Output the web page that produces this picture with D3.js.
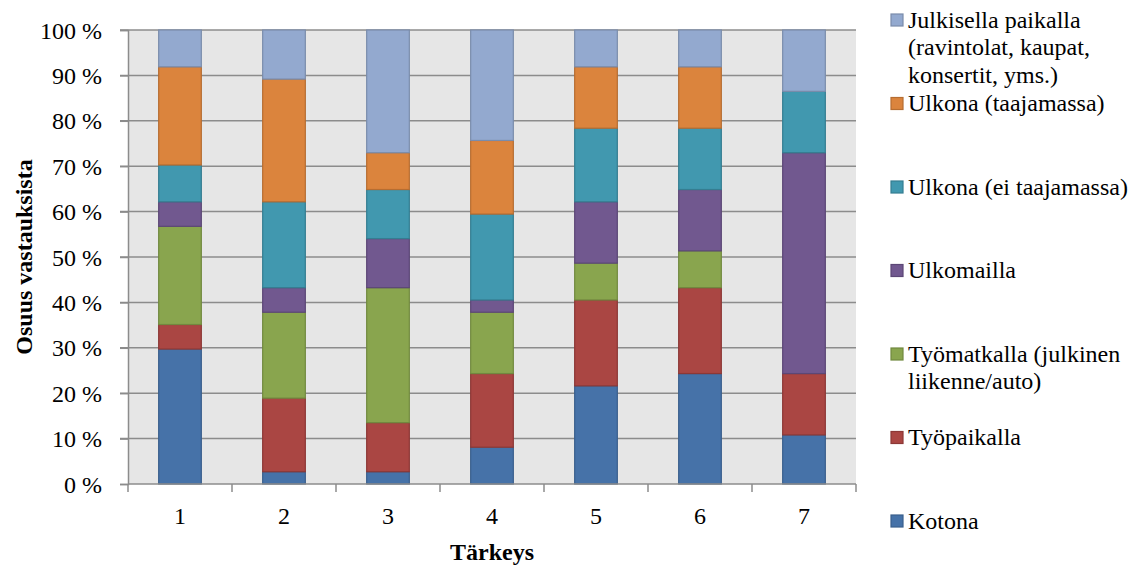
<!DOCTYPE html>
<html>
<head>
<meta charset="utf-8">
<script src="https://cdn.jsdelivr.net/npm/d3@7"></script>
<style>
  html, body { margin: 0; padding: 0; background: #fff; }
  text, tspan { font-family: 'Liberation Serif' !important; }
</style>
</head>
<body>
<svg id="chart" width="1137" height="566" font-family="Liberation Serif"></svg>
<script>
// Importance categories (x axis)
const categories = ["1", "2", "3", "4", "5", "6", "7"];

// Share of answers per place, % (stacked bottom to top)
const kotona      = [29.7, 2.7, 2.7, 8.1, 21.6, 24.3, 10.8];
const tyopaikalla = [5.4, 16.2, 10.8, 16.2, 18.9, 18.9, 13.5];
const tyomatkalla = [21.6, 18.9, 29.7, 13.5, 8.1, 8.1, 0];
const ulkomailla  = [5.4, 5.4, 10.8, 2.7, 13.5, 13.5, 48.6];
const ulkonaEi    = [8.1, 18.9, 10.8, 18.9, 16.2, 13.5, 13.5];
const ulkonaTaaj  = [21.6, 27.0, 8.1, 16.2, 13.5, 13.5, 0];
const julkisella  = [8.1, 10.8, 27.0, 24.3, 8.1, 8.1, 13.5];

const seriesKeys = ["Kotona", "Työpaikalla", "Työmatkalla", "Ulkomailla",
                    "UlkonaEi", "UlkonaTaaj", "Julkisella"];
const seriesValues = [kotona, tyopaikalla, tyomatkalla, ulkomailla, ulkonaEi, ulkonaTaaj, julkisella];
const seriesLabels = [
  ["Kotona"],
  ["Työpaikalla"],
  ["Työmatkalla (julkinen", "liikenne/auto)"],
  ["Ulkomailla"],
  ["Ulkona (ei taajamassa)"],
  ["Ulkona (taajamassa)"],
  ["Julkisella paikalla", "(ravintolat, kaupat,", "konsertit, yms.)"]
];
const fills   = ["#4672a8", "#aa4643", "#89a54e", "#71588f", "#4198af", "#db843d", "#93a9cf"];
const strokes = ["#3a5f8c", "#8c3836", "#71893f", "#5c4776", "#357d91", "#b66d31", "#7a8cab"];

const yTicks = [0, 10, 20, 30, 40, 50, 60, 70, 80, 90, 100];
const yTickLabels = yTicks.map(t => t + " %");

// Table for d3.stack
const table = categories.map((c, i) => {
  const row = { cat: c };
  seriesKeys.forEach((k, j) => { row[k] = seriesValues[j][i]; });
  return row;
});

const FONT = "Liberation Serif";
const svg = d3.select("#chart");
const plot = { left: 128, right: 856, top: 30, bottom: 484 };
const fontSize = 24;

// apply the serif face to a text selection
function serif(sel) {
  return sel.attr("font-family", FONT).style("font-family", "'Liberation Serif'");
}

const x = d3.scaleBand()
  .domain(categories)
  .range([plot.left, plot.right])
  .paddingInner(0.59)
  .paddingOuter(0.295);

const xEdge = d3.scaleLinear().domain([0, categories.length]).range([plot.left, plot.right]);

const y = d3.scaleLinear().domain([0, 100]).range([plot.bottom, plot.top]);

// plot area background
svg.append("rect")
  .attr("x", plot.left).attr("y", plot.top)
  .attr("width", plot.right - plot.left).attr("height", plot.bottom - plot.top)
  .attr("fill", "#e6e6e6");

// horizontal gridlines with ticks extending left of the axis
svg.append("g").selectAll("line")
  .data(yTicks.filter(t => t > 0))
  .join("line")
  .attr("x1", plot.left - 8).attr("x2", plot.right)
  .attr("y1", d => y(d)).attr("y2", d => y(d))
  .attr("stroke", "#8c8c8c").attr("stroke-width", 1.5);

// y axis
const yAxis = d3.axisLeft(y).tickValues(yTicks).tickSize(8).tickPadding(18)
  .tickFormat((d, i) => yTickLabels[i]);
const gy = svg.append("g").attr("transform", `translate(${plot.left},0)`).call(yAxis)
  .attr("font-family", FONT).attr("font-size", fontSize);
gy.select(".domain").attr("stroke", "#8c8c8c").attr("stroke-width", 1.5);
gy.selectAll(".tick line").attr("stroke", "#8c8c8c").attr("stroke-width", 1.5);
gy.selectAll(".tick text")
  .call(serif)
  .attr("font-size", fontSize).attr("fill", "#000")
  .attr("dy", "0.34em");

// stacked bars
const stack = d3.stack().keys(seriesKeys).offset(d3.stackOffsetExpand);
const stacked = stack(table);

svg.append("g").selectAll("g")
  .data(stacked)
  .join("g")
  .attr("fill", (d, i) => fills[i])
  .attr("stroke", (d, i) => strokes[i])
  .attr("stroke-width", 1.2)
  .selectAll("rect")
  .data(d => d.filter(s => s[1] - s[0] > 0))
  .join("rect")
  .attr("x", d => x(d.data.cat))
  .attr("width", x.bandwidth())
  .attr("y", d => y(d[1] * 100))
  .attr("height", d => y(d[0] * 100) - y(d[1] * 100));

// x axis with ticks on band edges
svg.append("line")
  .attr("x1", plot.left).attr("x2", plot.right)
  .attr("y1", plot.bottom).attr("y2", plot.bottom)
  .attr("stroke", "#8c8c8c").attr("stroke-width", 1.5);
svg.append("g").selectAll("line")
  .data(d3.range(categories.length + 1))
  .join("line")
  .attr("x1", d => xEdge(d)).attr("x2", d => xEdge(d))
  .attr("y1", plot.bottom).attr("y2", plot.bottom + 8)
  .attr("stroke", "#8c8c8c").attr("stroke-width", 1.5);
svg.append("g").selectAll("text")
  .data(categories)
  .join("text")
  .attr("x", d => x(d) + x.bandwidth() / 2)
  .attr("y", 524)
  .attr("text-anchor", "middle")
  .call(serif)
  .attr("font-size", fontSize)
  .text(d => d);

// axis titles
svg.append("text")
  .attr("x", (plot.left + plot.right) / 2).attr("y", 560)
  .attr("text-anchor", "middle").attr("font-weight", "bold")
  .call(serif).attr("font-size", fontSize)
  .text("Tärkeys");
svg.append("text")
  .attr("transform", `translate(32,${(plot.top + plot.bottom) / 2}) rotate(-90)`)
  .attr("text-anchor", "middle").attr("font-weight", "bold")
  .call(serif).attr("font-size", fontSize)
  .text("Osuus vastauksista");

// legend (top entry is the top of the stack)
const legendOrder = d3.range(seriesKeys.length).reverse();
const legend = svg.append("g").selectAll("g")
  .data(legendOrder)
  .join("g")
  .attr("transform", (d, i) => `translate(891,${20 + i * 83.5})`);
legend.append("rect")
  .attr("x", 0).attr("y", -6).attr("width", 12).attr("height", 12)
  .attr("fill", d => fills[d]).attr("stroke", d => strokes[d]).attr("stroke-width", 1.2);
legend.append("text")
  .attr("x", 17).attr("y", 7.5)
  .call(serif)
  .attr("font-size", fontSize)
  .selectAll("tspan")
  .data(d => seriesLabels[d])
  .join("tspan")
  .attr("x", 17)
  .attr("dy", (d, i) => i === 0 ? 0 : 27.5)
  .text(d => d);
</script>
</body>
</html>
